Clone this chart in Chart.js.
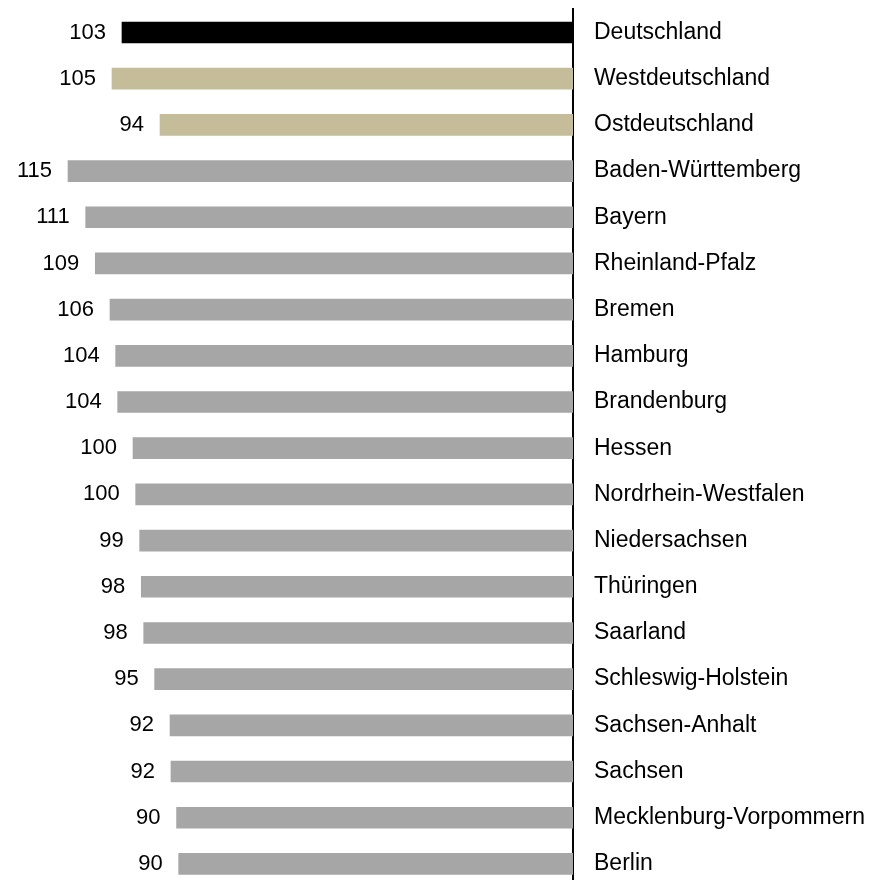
<!DOCTYPE html>
<html>
<head>
<meta charset="utf-8">
<script src="https://cdn.jsdelivr.net/npm/chart.js@4"></script>
<style>
  html, body { margin: 0; padding: 0; background: #fff; overflow: hidden; }
  #wrap { position: relative; width: 874px; height: 887px; }
</style>
</head>
<body>
<div id="wrap"><canvas id="c"></canvas></div>
<script>
const categories = [
  "Deutschland", "Westdeutschland", "Ostdeutschland", "Baden-Württemberg", "Bayern",
  "Rheinland-Pfalz", "Bremen", "Hamburg", "Brandenburg", "Hessen",
  "Nordrhein-Westfalen", "Niedersachsen", "Thüringen", "Saarland", "Schleswig-Holstein",
  "Sachsen-Anhalt", "Sachsen", "Mecklenburg-Vorpommern", "Berlin"
];
const values = [
  102.85, 105.13, 94.18, 115.16, 111.13,
  108.94, 105.59, 104.29, 103.83, 100.34,
  99.73, 98.82, 98.45, 97.9, 95.4,
  91.9, 91.68, 90.4, 89.92
];
const groups = [
  "total", "region", "region", "state", "state",
  "state", "state", "state", "state", "state",
  "state", "state", "state", "state", "state",
  "state", "state", "state", "state"
];

const groupColors = { total: "#000000", region: "#c5bd99", state: "#a6a6a6" };
const FONT = "'Liberation Sans', Arial, sans-serif";

const valueLabels = {
  id: "valueLabels",
  afterDatasetsDraw(chart) {
    const ctx = chart.ctx;
    const meta = chart.getDatasetMeta(0);
    ctx.save();
    ctx.font = "22px " + FONT;
    ctx.fillStyle = "#000";
    ctx.textAlign = "right";
    ctx.textBaseline = "middle";
    meta.data.forEach((bar, i) => {
      ctx.fillText(String(Math.round(values[i])), bar.x - 16, bar.y);
    });
    ctx.restore();
  }
};

new Chart(document.getElementById("c"), {
  type: "bar",
  data: {
    labels: categories,
    datasets: [{
      data: values,
      backgroundColor: groups.map(g => groupColors[g]),
      borderWidth: 0,
      barThickness: 21
    }]
  },
  options: {
    indexAxis: "y",
    responsive: true,
    maintainAspectRatio: false,
    animation: false,
    layout: { padding: { top: 9.4, bottom: 0, left: 0, right: 0 } },
    plugins: { legend: { display: false }, tooltip: { enabled: false } },
    scales: {
      x: {
        reverse: true,
        min: 0,
        max: 130.67,
        display: false
      },
      y: {
        position: "right",
        grid: { display: false, drawTicks: false },
        border: { display: true, color: "#000", width: 2 },
        ticks: {
          padding: 21,
          color: "#000",
          font: { family: FONT, size: 23 }
        },
        afterFit(scale) {
          scale.width = 301;
          scale.paddingTop = 0;
          scale.paddingBottom = 0;
        }
      }
    }
  },
  plugins: [valueLabels]
});
</script>
</body>
</html>
